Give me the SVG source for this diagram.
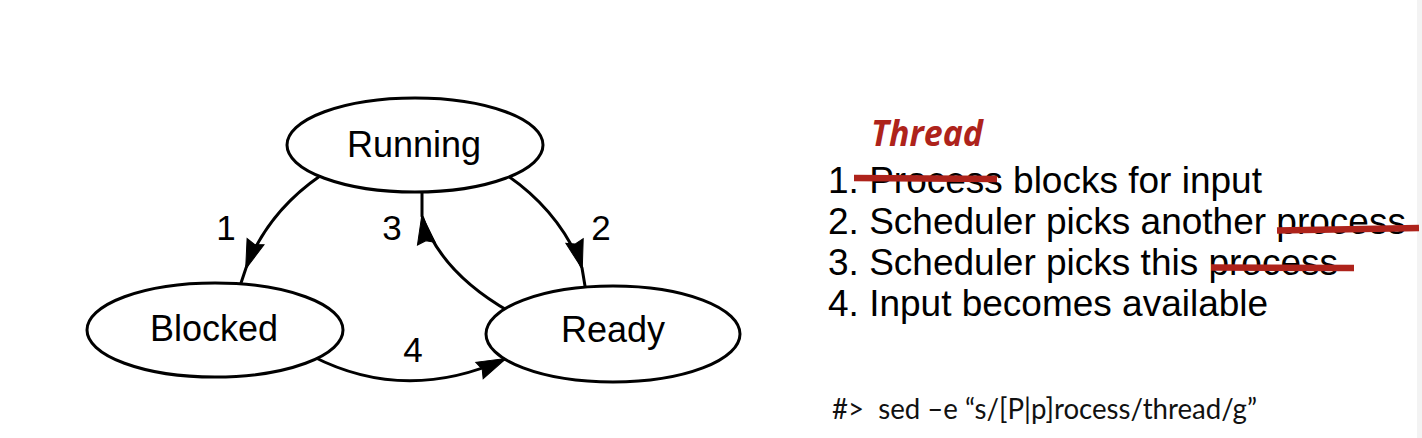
<svg xmlns="http://www.w3.org/2000/svg" width="1422" height="438" viewBox="0 0 1422 438">
  <style>
    .node { fill: #ffffff; stroke: #000000; stroke-width: 3; }
    .node-label { font-family: "Liberation Sans", Arial, Helvetica, sans-serif; font-size: 36px; fill: #000000; text-anchor: middle; }
    .edge { fill: none; stroke: #000000; stroke-width: 3; }
    .edge-label { font-family: "Liberation Sans", Arial, Helvetica, sans-serif; font-size: 35px; fill: #000000; text-anchor: middle; }
    .item { font-family: "Liberation Sans", Arial, Helvetica, sans-serif; font-size: 37px; fill: #000000; }
    .strike { stroke: #AE231B; stroke-width: 6.5; fill: none; }
    .title { font-family: "Open Sans", "Lato", sans-serif; font-size: 35px; font-weight: bold; font-style: italic; fill: #AE231B; }
    .cmd { font-family: "Lato", "Open Sans", sans-serif; font-size: 29px; fill: #111111; white-space: pre; }
  </style>
  <defs>
    <marker id="arrow" markerUnits="userSpaceOnUse" markerWidth="34" markerHeight="22" viewBox="-31 -11 34 22" refX="0" refY="0" orient="auto">
      <path d="M1,0 L-28,-9 L-25,0 L-28,9 Z" fill="#000000" stroke="#000000" stroke-width="1"/>
    </marker>
  </defs>
  <rect x="0" y="0" width="1422" height="438" fill="#ffffff"/>
  <rect x="1417" y="0" width="5" height="438" fill="#f3f3f3"/>

  <g id="connectors">
    <path id="edge-1" class="edge" d="M320,176 Q268,212 246,268 L238,292" marker-mid="url(#arrow)"/>
    <path id="edge-2" class="edge" d="M508,176 Q560,212 582,268 L586,292" marker-mid="url(#arrow)"/>
    <path id="edge-3" class="edge" d="M510,312 Q440,272 422,216 L422,185" marker-mid="url(#arrow)"/>
    <path id="edge-4" class="edge" d="M312,356 Q405,404 505,359" marker-end="url(#arrow)"/>
    <text class="edge-label" x="226" y="240">1</text>
    <text class="edge-label" x="601" y="240">2</text>
    <text class="edge-label" x="392" y="240">3</text>
    <text class="edge-label" x="413" y="362">4</text>
  </g>

  <g id="node-running">
    <ellipse class="node" cx="415" cy="145" rx="128" ry="47"/>
    <text class="node-label" x="414" y="157">Running</text>
  </g>
  <g id="node-blocked">
    <ellipse class="node" cx="215" cy="330" rx="128" ry="47"/>
    <text class="node-label" x="214" y="341">Blocked</text>
  </g>
  <g id="node-ready">
    <ellipse class="node" cx="613" cy="334" rx="127" ry="48"/>
    <text class="node-label" x="613" y="342">Ready</text>
  </g>

  <g id="legend">
    <text class="title" x="871" y="146" textLength="112" lengthAdjust="spacingAndGlyphs">Thread</text>
    <text class="item" x="828" y="193">1. Process blocks for input</text>
    <text class="item" x="828" y="234">2. Scheduler picks another process</text>
    <text class="item" x="828" y="275">3. Scheduler picks this process</text>
    <text class="item" x="828" y="316">4. Input becomes available</text>
    <line class="strike" x1="854" y1="178" x2="997" y2="179"/>
    <line class="strike" x1="1277" y1="230.5" x2="1419" y2="228"/>
    <line class="strike" x1="1211" y1="267.5" x2="1354" y2="268"/>
  </g>

  <g id="command">
    <text class="cmd" x="832" y="419" textLength="425" lengthAdjust="spacingAndGlyphs">#&gt;  sed –e “s/[P|p]rocess/thread/g”</text>
  </g>
</svg>
